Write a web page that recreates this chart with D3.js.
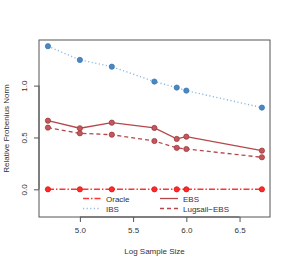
<!DOCTYPE html>
<html><head><meta charset="utf-8">
<script src="https://cdn.jsdelivr.net/npm/d3@7"></script>
<style>body{margin:0;background:#fff}svg{display:block}text{font-family:"Liberation Sans",Arial,sans-serif;fill:#333}</style>
</head><body><div id="chart"></div>
<script>
const logSampleSize = [4.70, 5.00, 5.30, 5.70, 5.91, 6.00, 6.71];
const oracle  = [0, 0, 0, 0, 0, 0, 0];
const ibs     = [1.38, 1.248, 1.183, 1.039, 0.981, 0.952, 0.788];
const ebs     = [0.662, 0.589, 0.643, 0.592, 0.486, 0.508, 0.373];
const lugsail = [0.595, 0.540, 0.527, 0.466, 0.400, 0.389, 0.309];
const xTicks = [5.0, 5.5, 6.0, 6.5];
const yTicks = [0.0, 0.5, 1.0];
const seriesNames = ["Oracle", "IBS", "EBS", "Lugsail\u2212EBS"];

const W = 291, H = 267;
const m = {left: 39, top: 40, right: 21, bottom: 50};
const svg = d3.select("#chart").append("svg").attr("width", W).attr("height", H);

const x = d3.scaleLinear().domain([4.616, 6.786]).range([m.left, W - m.right]);
const y = d3.scaleLinear().domain([-0.267, 1.44]).range([H - m.bottom, m.top]);

// box
svg.append("rect").attr("x", m.left).attr("y", m.top)
  .attr("width", W - m.right - m.left).attr("height", H - m.bottom - m.top)
  .attr("fill", "none").attr("stroke", "#555").attr("stroke-width", 1);

// x axis
const xa = svg.append("g").attr("transform", `translate(0,${H - m.bottom})`)
  .call(d3.axisBottom(x).tickValues(xTicks).tickFormat(d3.format(".1f")).tickSize(5).tickPadding(5));
xa.select(".domain").attr("d", `M${x(5.0)},0H${x(6.5)}`).attr("stroke", "#555");
xa.selectAll(".tick line").attr("stroke", "#555");
xa.selectAll("text").attr("font-size", 8).attr("fill", "#333").style("font-family", '"Liberation Sans",Arial,sans-serif');

// y axis
const ya = svg.append("g").attr("transform", `translate(${m.left},0)`)
  .call(d3.axisLeft(y).tickValues(yTicks).tickFormat(d3.format(".1f")).tickSize(5).tickPadding(4));
ya.select(".domain").attr("d", `M0,${y(0)}V${y(1)}`).attr("stroke", "#555");
ya.selectAll(".tick line").attr("stroke", "#555");
ya.selectAll("text").attr("font-size", 8).attr("fill", "#333")
  .style("font-family", '"Liberation Sans",Arial,sans-serif')
  .attr("text-anchor", "middle").attr("x", 0).attr("dy", 0)
  .attr("transform", "translate(-12,0) rotate(-90)");

svg.append("text").attr("x", (m.left + W - m.right) / 2).attr("y", 254)
  .attr("text-anchor", "middle").attr("font-size", 8).text("Log Sample Size");
svg.append("text").attr("transform", `translate(9,${(m.top + H - m.bottom) / 2}) rotate(-90)`)
  .attr("text-anchor", "middle").attr("font-size", 8).text("Relative Frobenius Norm");

const series = [
  {name: seriesNames[0], vals: oracle, line: "#ff3333", pt: "#ff2a2a", stroke: "#e01010", dash: "6,2,1.5,2", w: 1.6},
  {name: seriesNames[1], vals: ibs, line: "#8fb8de", pt: "#4a88c4", stroke: "#3a78b4", dash: "1.2,2.4", w: 1.4},
  {name: seriesNames[2], vals: ebs, line: "#b5474b", pt: "#c0585c", stroke: "#a03a3e", dash: null, w: 1.3},
  {name: seriesNames[3], vals: lugsail, line: "#b5474b", pt: "#c0585c", stroke: "#a03a3e", dash: "4,3", w: 1.3}
];

const line = d3.line().x((d, i) => x(logSampleSize[i])).y(d => y(d));
series.forEach(s => {
  svg.append("path").datum(s.vals).attr("d", line).attr("fill", "none")
    .attr("stroke", s.line).attr("stroke-width", s.w)
    .attr("stroke-dasharray", s.dash);
  svg.append("g").selectAll("circle").data(s.vals).join("circle")
    .attr("cx", (d, i) => x(logSampleSize[i])).attr("cy", d => y(d)).attr("r", 2.6)
    .attr("fill", s.pt).attr("stroke", s.stroke).attr("stroke-width", 0.8);
});

// legend
const legPos = [[83, 198.5], [83, 208.5], [160, 198.5], [160, 208.5]];
series.forEach((s, i) => {
  const [lx, ly] = legPos[i];
  svg.append("line").attr("x1", lx).attr("x2", lx + 18).attr("y1", ly).attr("y2", ly)
    .attr("stroke", s.line).attr("stroke-width", s.w).attr("stroke-dasharray", s.dash);
  svg.append("text").attr("x", lx + 23).attr("y", ly + 3).attr("font-size", 8).text(s.name);
});
</script></body></html>
